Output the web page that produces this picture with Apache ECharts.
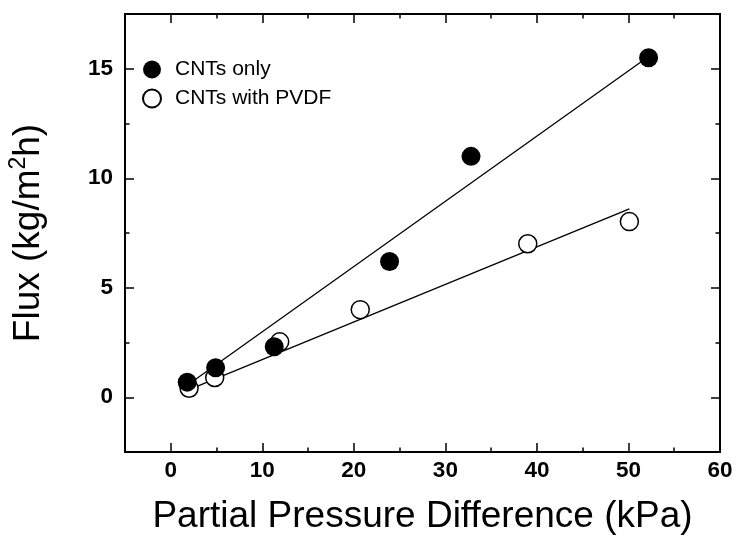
<!DOCTYPE html>
<html>
<head>
<meta charset="utf-8">
<script src="https://cdn.jsdelivr.net/npm/echarts@6/dist/echarts.min.js"></script>
<style>html,body{margin:0;padding:0;background:#fff}#c{width:737px;height:541px}</style>
</head>
<body>
<div id="c"></div>
<script>
// Data
const cntsOnlyX = [1.8, 4.9, 11.3, 23.9, 32.8, 52.2];
const cntsOnlyY = [0.69, 1.35, 2.31, 6.2, 11.0, 15.5];
const pvdfX = [2.0, 4.8, 11.9, 20.7, 39.0, 50.1];
const pvdfY = [0.41, 0.9, 2.53, 4.0, 7.01, 8.02];
// fitted lines: endpoints
const fitOnlyX = [1.8, 52.2];
const fitOnlyY = [0.55, 15.56];
const fitPvdfX = [2.0, 50.1];
const fitPvdfY = [0.35, 8.6];
// ticks
const xMajor = [0, 10, 20, 30, 40, 50, 60];
const xMinor = [5, 15, 25, 35, 45, 55];
const yMajor = [0, 5, 10, 15];
const yMinor = [2.5, 7.5, 12.5];
const seriesNames = ['CNTs only', 'CNTs with PVDF'];

const FONT = '"Liberation Sans", Arial, sans-serif';
const zip = (a, b) => a.map((v, i) => [v, b[i]]);

function xAx(pos, ticks, len, labels, extra) {
  return Object.assign({
    type: 'value', min: -5, max: 60, position: pos,
    axisLine: { show: true, onZero: false, lineStyle: { color: '#000', width: 2 } },
    axisTick: { show: true, inside: true, length: len, customValues: ticks, lineStyle: { color: '#000', width: 1.5 } },
    axisLabel: labels ? { show: true, customValues: ticks, color: '#000', fontSize: 22.5, fontWeight: 'bold', fontFamily: FONT, margin: 7 } : { show: false },
    splitLine: { show: false }
  }, extra || {});
}
function yAx(pos, ticks, len, labels, extra) {
  return Object.assign({
    type: 'value', min: -2.5, max: 17.5, position: pos,
    axisLine: { show: true, onZero: false, lineStyle: { color: '#000', width: 2 } },
    axisTick: { show: true, inside: true, length: len, customValues: ticks, lineStyle: { color: '#000', width: 1.5 } },
    axisLabel: labels ? { show: true, customValues: ticks, color: '#000', fontSize: 22.5, fontWeight: 'bold', fontFamily: FONT, margin: 12 } : { show: false },
    splitLine: { show: false }
  }, extra || {});
}

const chart = echarts.init(document.getElementById('c'), null, { renderer: 'canvas' });
chart.setOption({
  backgroundColor: '#fff',
  animation: false,
  grid: { left: 125, right: 17, top: 14, bottom: 89, containLabel: false, outerBoundsMode: 'none' },
  legend: {
    show: true, orient: 'vertical', left: 137, top: 54, itemGap: 8,
    icon: 'circle', itemWidth: 18, itemHeight: 18,
    data: seriesNames,
    textStyle: { color: '#000', fontSize: 21, fontFamily: FONT, padding: [0, 0, 0, 9] }
  },
  xAxis: [
    xAx('bottom', xMajor, 9, true, {
      name: 'Partial Pressure Difference (kPa)', nameLocation: 'middle', nameGap: 46,
      nameTextStyle: { color: '#000', fontSize: 37, fontFamily: FONT }
    }),
    xAx('bottom', xMinor, 4.5, false),
    xAx('top', xMajor, 9, false),
    xAx('top', xMinor, 4.5, false)
  ],
  yAxis: [
    yAx('left', yMajor, 9, true, {
      name: 'Flux (kg/m{s|2}h)', nameLocation: 'middle', nameGap: 75,
      nameTextStyle: { color: '#000', fontSize: 37, fontFamily: FONT,
        rich: { s: { fontSize: 23, padding: [0, 0, 20, 0], fontFamily: FONT, color: '#000' } } }
    }),
    yAx('left', yMinor, 4.5, false),
    yAx('right', yMajor, 9, false),
    yAx('right', yMinor, 4.5, false)
  ],
  series: [
    { type: 'line', data: zip(fitOnlyX, fitOnlyY), showSymbol: false, symbol: 'none', silent: true,
      lineStyle: { color: '#000', width: 1.3 }, z: 1 },
    { type: 'line', data: zip(fitPvdfX, fitPvdfY), showSymbol: false, symbol: 'none', silent: true,
      lineStyle: { color: '#000', width: 1.3 }, z: 1 },
    { name: seriesNames[1], type: 'scatter', data: zip(pvdfX, pvdfY), symbol: 'circle', symbolSize: 18,
      itemStyle: { color: '#fff', borderColor: '#000', borderWidth: 1.5, opacity: 1 }, z: 3 },
    { name: seriesNames[0], type: 'scatter', data: zip(cntsOnlyX, cntsOnlyY), symbol: 'circle', symbolSize: 19,
      itemStyle: { color: '#000', borderColor: '#000', borderWidth: 0, opacity: 1 }, z: 4 }
  ]
});
</script>
</body>
</html>
